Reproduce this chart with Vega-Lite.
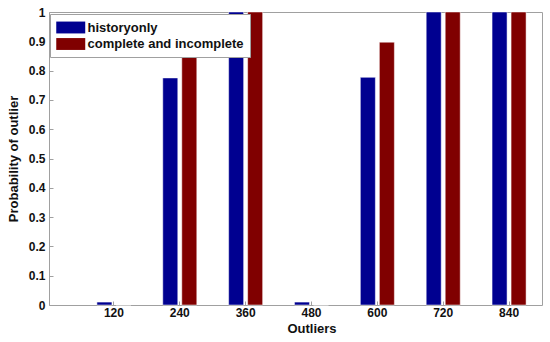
{
  "$schema": "https://vega.github.io/schema/vega-lite/v6.json",
  "width": 493,
  "height": 293,
  "autosize": {"type": "none"},
  "padding": {"left": 49, "top": 12, "right": 8, "bottom": 37},
  "background": "white",
  "config": {
    "font": "Liberation Sans",
    "view": {"stroke": "#a0a0a0", "strokeWidth": 1},
    "axis": {"grid": false, "domain": false, "labelFont": "Liberation Sans", "labelFontWeight": "bold", "labelFontSize": 12, "labelColor": "#111", "titleFont": "Liberation Sans", "titleFontWeight": "bold", "titleFontSize": 13, "titleColor": "#111", "tickColor": "#a0a0a0", "tickSize": -4}
  },
  "data": {
    "values": [
      {"outliers": "120", "series": "historyonly", "p": 0.01},
      {"outliers": "120", "series": "complete and incomplete", "p": 0},
      {"outliers": "240", "series": "historyonly", "p": 0.775},
      {"outliers": "240", "series": "complete and incomplete", "p": 0.897},
      {"outliers": "360", "series": "historyonly", "p": 1},
      {"outliers": "360", "series": "complete and incomplete", "p": 1},
      {"outliers": "480", "series": "historyonly", "p": 0.01},
      {"outliers": "480", "series": "complete and incomplete", "p": 0},
      {"outliers": "600", "series": "historyonly", "p": 0.777},
      {"outliers": "600", "series": "complete and incomplete", "p": 0.897},
      {"outliers": "720", "series": "historyonly", "p": 1},
      {"outliers": "720", "series": "complete and incomplete", "p": 1},
      {"outliers": "840", "series": "historyonly", "p": 1},
      {"outliers": "840", "series": "complete and incomplete", "p": 1}
    ]
  },
  "mark": {"type": "bar", "stroke": "white", "strokeWidth": 0.5},
  "encoding": {
    "x": {
      "field": "outliers",
      "type": "nominal",
      "sort": null,
      "title": "Outliers",
      "scale": {"range": [32, 493], "paddingInner": 0, "paddingOuter": 0},
      "axis": {"labelAngle": 0, "labelPadding": 6, "titlePadding": 4}
    },
    "xOffset": {
      "field": "series",
      "type": "nominal",
      "sort": ["historyonly", "complete and incomplete"],
      "scale": {"paddingInner": 0.21, "paddingOuter": 0.837}
    },
    "y": {
      "field": "p",
      "type": "quantitative",
      "title": "Probability of outlier",
      "scale": {"domain": [0, 1], "nice": false},
      "axis": {"values": [0, 0.1, 0.2, 0.3, 0.4, 0.5, 0.6, 0.7, 0.8, 0.9, 1], "format": "~g", "labelPadding": 8, "titlePadding": 8}
    },
    "color": {
      "field": "series",
      "type": "nominal",
      "sort": ["historyonly", "complete and incomplete"],
      "scale": {"domain": ["historyonly", "complete and incomplete"], "range": ["#000090", "#800000"]},
      "legend": {
        "title": null,
        "orient": "none",
        "legendX": 1,
        "legendY": 2,
        "symbolType": "M-1,-0.82H3V0.82H-1Z",
        "symbolSize": 210,
        "symbolStrokeWidth": 0,
        "labelFont": "Liberation Sans",
        "labelFontWeight": "bold",
        "labelFontSize": 13,
        "labelColor": "#111",
        "labelOffset": 16.5,
        "rowPadding": 1.5,
        "padding": 6,
        "strokeColor": "#a0a0a0",
        "fillColor": "white"
      }
    }
  }
}
